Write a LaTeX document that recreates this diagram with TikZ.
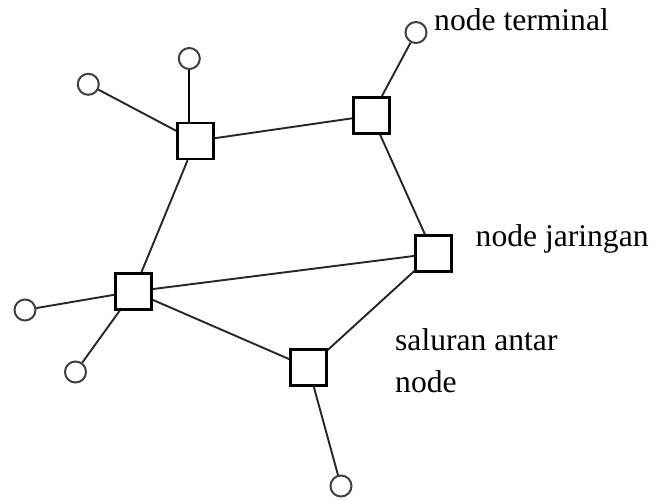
\documentclass[tikz,border=0pt]{standalone}
\usepackage{fontspec}
\setmainfont{Liberation Serif}
\tikzset{
  netnode/.style={draw=black, line width=2.3pt, minimum size=36pt, inner sep=0pt, fill=white},
  termnode/.style={circle, draw=black!75, line width=2pt, minimum size=21pt, inner sep=0pt},
  link/.style={draw=black!85, line width=1.9pt},
  lab/.style={anchor=base west, inner sep=0pt, font=\fontsize{31.6pt}{40pt}\selectfont}
}
\begin{document}
\begin{tikzpicture}[x=1pt,y=-1pt]
\useasboundingbox (0,0) rectangle (655,500);
% network nodes
\node[netnode] (A) at (195.5,141) {};
\node[netnode] (B) at (371.5,115.5) {};
\node[netnode] (C) at (433.5,253.5) {};
\node[netnode] (D) at (133.5,291.5) {};
\node[netnode] (E) at (308.5,367.5) {};
% terminal nodes
\node[termnode] (t1) at (189.3,58.5) {};
\node[termnode] (t2) at (88.3,84.3) {};
\node[termnode] (t3) at (416,32.5) {};
\node[termnode] (t4) at (25,310) {};
\node[termnode] (t5) at (75.5,372) {};
\node[termnode] (t6) at (341,486) {};
% links
\draw[link] (A) -- (B);
\draw[link] (A) -- (D);
\draw[link] (B) -- (C);
\draw[link] (C) -- (D);
\draw[link] (C) -- (E);
\draw[link] (D) -- (E);
\draw[link, draw=black] (t1) -- (t1 |- A.north);
\draw[link] (t2) -- (A);
\draw[link] (t3) -- (B);
\draw[link] (t4) -- (D);
\draw[link] (t5) -- (D);
\draw[link] (t6) -- (E);
% labels
\node[lab] (l1) at (434,30.7) {node terminal};
\node[lab] (l2) at (475.5,246) {node jaringan};
\node[lab] (l3) at (395,350) {saluran antar};
\node[lab] (l4) at (395,392.7) {node};
\end{tikzpicture}
\end{document}
